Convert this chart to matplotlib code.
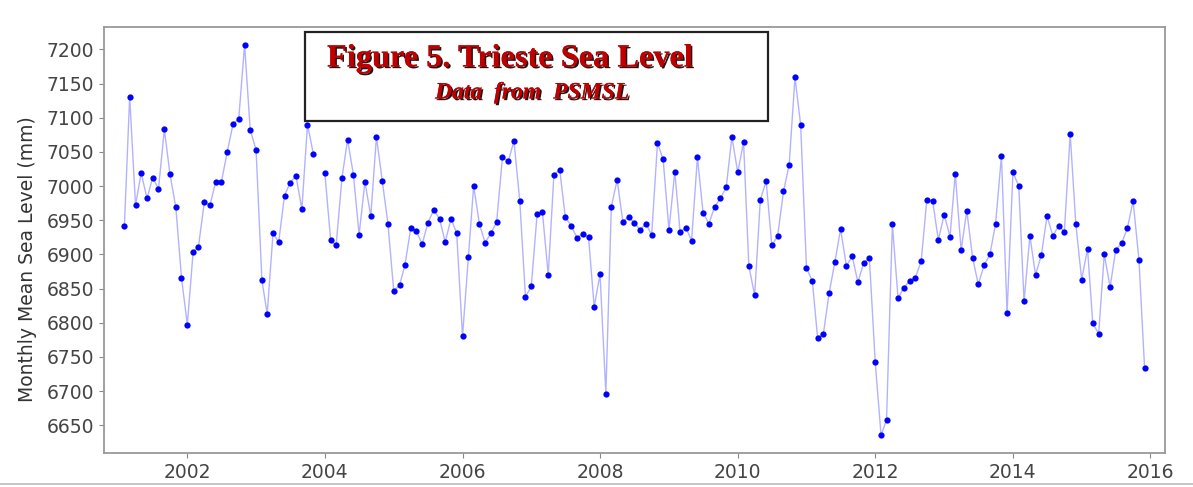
import numpy as np
import pandas as pd
import matplotlib
matplotlib.use('Agg')
import matplotlib.pyplot as plt
import matplotlib.patheffects as pe
from matplotlib.lines import Line2D
from matplotlib.patches import Rectangle

# monthly dates, Feb 2001 .. Dec 2015 (Dec 2003 missing in the record)
start_month = '2001-02-01'
end_month = '2015-12-01'

# monthly mean sea level (mm); None = missing month
sea_level = [
    6942, 7131, 6972, 7019, 6982, 7012, 6996, 7083, 7017, 6969, 6866,
    6797, 6904, 6911, 6976, 6972, 7006, 7006, 7050, 7091, 7098, 7207,
    7082, 7053, 6862, 6813, 6931, 6918, 6986, 7005, 7015, 6966, 7090,
    7047, None,
    7019, 6921, 6913, 7012, 7068, 7016, 6929, 7006, 6956, 7072, 7007, 6945,
    6846, 6855, 6884, 6938, 6934, 6915, 6946, 6965, 6952, 6918, 6952, 6931,
    6780, 6896, 7000, 6944, 6917, 6931, 6947, 7042, 7036, 7066, 6978, 6838,
    6853, 6959, 6962, 6870, 7016, 7024, 6954, 6942, 6924, 6930, 6925, 6823,
    6871, 6696, 6970, 7009, 6948, 6955, 6946, 6936, 6945, 6928, 7063, 7039,
    6936, 7021, 6933, 6939, 6920, 7042, 6961, 6945, 6970, 6982, 6998, 7072,
    7020, 7064, 6883, 6840, 6980, 7007, 6913, 6927, 6992, 7031, 7159, 7090,
    6880, 6861, 6778, 6784, 6843, 6889, 6937, 6883, 6897, 6859, 6888, 6894,
    6742, 6635, 6658, 6944, 6836, 6851, 6861, 6866, 6890, 6980, 6978, 6921,
    6958, 6926, 7018, 6906, 6964, 6895, 6856, 6884, 6900, 6945, 7044, 6814,
    7020, 7000, 6831, 6927, 6870, 6899, 6956, 6927, 6942, 6933, 7076, 6944,
    6863, 6908, 6799, 6784, 6900, 6852, 6907, 6916, 6939, 6978, 6892, 6733,
]

title_text = 'Figure 5. Trieste Sea Level'
subtitle_text = 'Data  from  PSMSL'
ylabel_text = 'Monthly Mean Sea Level (mm)'


def main():
    dates = pd.date_range(start_month, end_month, freq='MS')
    values = np.array([np.nan if v is None else v for v in sea_level], dtype=float)

    W, H = 1193, 487
    fig = plt.figure(figsize=(W / 100, H / 100), dpi=100)
    ax = fig.add_axes([104 / W, (H - 453) / H, (1165 - 104) / W, (453 - 27) / H])

    ax.plot(dates, values, color='blue', alpha=0.3, linewidth=1.0)
    ax.plot(dates, values, 'o', color='blue', markersize=4.5, markeredgewidth=0)
    ax.margins(x=0.02, y=0.045)

    ax.set_yticks(np.arange(6650, 7201, 50))
    ax.set_ylabel(ylabel_text, fontsize=13.5, color='#333333')
    ax.yaxis.set_label_coords(-0.063, 0.456)
    ax.tick_params(labelsize=13.5, labelcolor='#444444', color='#888888')
    for s in ax.spines.values():
        s.set_color('#999999')
        s.set_linewidth(1.3)

    # framed title box inside the axes
    x0, x1 = (305 - 104) / 1061, (768 - 104) / 1061
    y1, y0 = 1 - (32 - 27) / 426, 1 - (121 - 27) / 426
    ax.add_patch(Rectangle((x0, y0), x1 - x0, y1 - y0, transform=ax.transAxes,
                           facecolor='white', edgecolor='#222222', linewidth=1.6,
                           zorder=5))
    shadow = [pe.withSimplePatchShadow(offset=(1.2, -1.2), shadow_rgbFace='black',
                                       alpha=0.9), pe.Normal()]
    ax.text((327 - 104) / 1061, 1 - (59 - 27) / 426, title_text,
            transform=ax.transAxes, ha='left', va='center', fontsize=23.3,
            fontweight='bold', family='Liberation Serif', color='#c00000',
            path_effects=shadow, zorder=6)
    ax.text((435 - 104) / 1061, 1 - (93 - 27) / 426, subtitle_text,
            transform=ax.transAxes, ha='left', va='center', fontsize=17,
            fontweight='bold', fontstyle='italic', family='Liberation Serif',
            color='#c00000', path_effects=shadow, zorder=6)

    # thin border line at the bottom of the screenshot
    fig.add_artist(Line2D([0, 1], [1 - 484 / H] * 2, transform=fig.transFigure,
                          color='#bbbbbb', linewidth=1.2))

    fig.savefig('out.png', dpi=100)


if __name__ == '__main__':
    main()
